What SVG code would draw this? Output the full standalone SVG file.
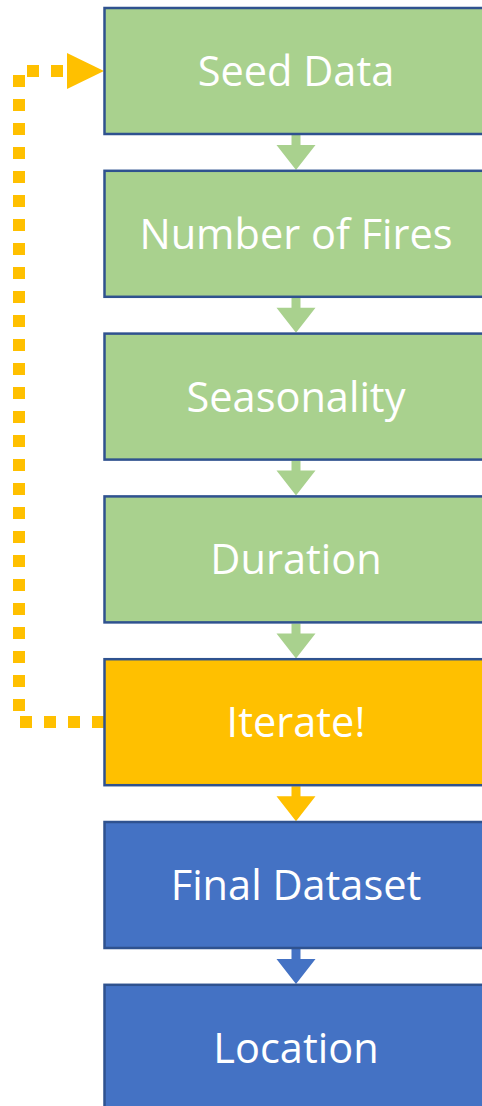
<svg xmlns="http://www.w3.org/2000/svg" width="482" height="1106" viewBox="0 0 482 1106">
<style>
.box{stroke:#2F528F;stroke-width:2.5}
.g{fill:#A9D18E}.o{fill:#FFC000}.b{fill:#4472C4}
.t{font-family:"Open Sans","Liberation Sans",sans-serif;font-size:41.5px;fill:#FFFFFF;text-anchor:middle}
</style>
<defs>
<path id="arr" d="M291.5 0 H300.5 V10 H315.5 L296 35 L276.5 10 H291.5 Z"/>
</defs>
<rect width="482" height="1106" fill="#FFFFFF"/>
<g id="connectors">
<use href="#arr" transform="translate(0,135)" class="g"/>
<use href="#arr" transform="translate(0,297.8)" class="g"/>
<use href="#arr" transform="translate(0,460.6)" class="g"/>
<use href="#arr" transform="translate(0,623.4)" class="g"/>
<use href="#arr" transform="translate(0,786.2)" class="o"/>
<use href="#arr" transform="translate(0,949)" class="b"/>
<path d="M104 722 H19 V71 H68" fill="none" stroke="#FFC000" stroke-width="12" stroke-dasharray="12 12"/>
<polygon points="67,53 104,71 67,89" fill="#FFC000"/>
</g>
<g id="seed"><rect class="box g" x="104.5" y="8" width="400" height="126"/><text class="t" x="296" y="86">Seed Data</text></g>
<g id="fires"><rect class="box g" x="104.5" y="170.8" width="400" height="126"/><text class="t" x="296" y="248.8">Number of Fires</text></g>
<g id="seasonality"><rect class="box g" x="104.5" y="333.6" width="400" height="126"/><text class="t" x="296" y="411.6">Seasonality</text></g>
<g id="duration"><rect class="box g" x="104.5" y="496.4" width="400" height="126"/><text class="t" x="296" y="574.4">Duration</text></g>
<g id="iterate"><rect class="box o" x="104.5" y="659.2" width="400" height="126"/><text class="t" x="296" y="737.2">Iterate!</text></g>
<g id="final"><rect class="box b" x="104.5" y="822" width="400" height="126"/><text class="t" x="296" y="900">Final Dataset</text></g>
<g id="location"><rect class="box b" x="104.5" y="984.8" width="400" height="126"/><text class="t" x="296" y="1063">Location</text></g>
</svg>
